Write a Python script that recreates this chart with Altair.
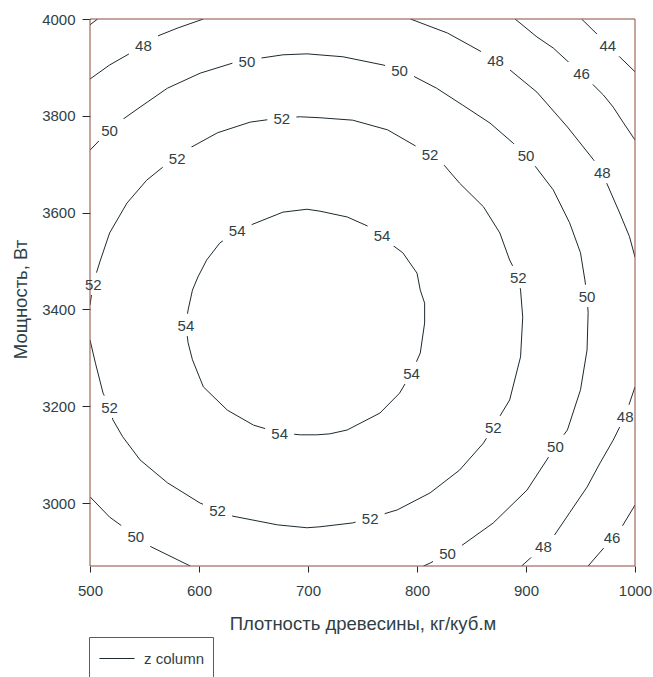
import altair as alt
import pandas as pd

# Contour levels and their traced paths: (x = density, y = power)
c44 = [(951, 4000), (966, 3967), (975, 3946), (984, 3926), (1000, 3891)]

c46_corner = [(500, 3988), (507, 4000)]
c46_top = [(890, 4000), (910, 3963), (925, 3940), (940, 3909), (951, 3888), (959, 3870),
           (971, 3843), (980, 3818), (989, 3787), (1000, 3750)]
c46_bottom = [(1000, 2996), (988, 2951), (979, 2930), (972, 2909), (957, 2870)]

c48_left = [(500, 3876), (518, 3905), (539, 3932), (549, 3946), (560, 3963), (580, 3981), (604, 4000)]
c48_top = [(794, 4000), (828, 3971), (861, 3930), (872, 3915), (883, 3899), (910, 3849),
           (938, 3777), (962, 3709), (970, 3684), (974, 3661), (986, 3599), (995, 3550), (1000, 3508)]
c48_bottom = [(1000, 3240), (991, 3180), (980, 3130), (968, 3083), (956, 3033), (940, 2980),
              (925, 2930), (916, 2911), (899, 2876), (896, 2870)]

c50_main = [(500, 3729), (518, 3771), (529, 3791), (546, 3818), (571, 3857), (601, 3888),
            (631, 3909), (644, 3913), (656, 3919), (677, 3926), (699, 3928), (732, 3922),
            (769, 3905), (784, 3895), (795, 3884), (818, 3857), (842, 3822), (867, 3785),
            (888, 3744), (900, 3719), (906, 3703), (925, 3647), (940, 3579), (950, 3517),
            (954, 3461), (956, 3428), (957, 3393), (956, 3316), (950, 3234), (938, 3151),
            (927, 3118), (919, 3089), (901, 3027), (870, 2959), (839, 2909), (828, 2897),
            (812, 2876), (806, 2870)]
c50_low = [(500, 3013), (518, 2971), (542, 2932), (553, 2913), (592, 2870)]

c52 = [(500, 3409), (502, 3440), (505, 3469), (509, 3498), (518, 3558), (534, 3620),
       (552, 3667), (569, 3698), (580, 3713), (592, 3734), (617, 3765), (647, 3787),
       (676, 3796), (693, 3798), (711, 3796), (741, 3791), (773, 3771), (800, 3736),
       (812, 3721), (823, 3703), (839, 3661), (861, 3612), (876, 3558), (885, 3502),
       (893, 3467), (895, 3440), (897, 3384), (895, 3302), (885, 3213), (870, 3157),
       (861, 3124), (839, 3068), (812, 3021), (782, 2986), (757, 2969), (741, 2959),
       (711, 2951), (699, 2949), (672, 2955), (631, 2973), (617, 2986), (601, 3000),
       (571, 3042), (546, 3089), (530, 3137), (521, 3172), (518, 3199), (512, 3227),
       (505, 3289), (500, 3337)]

c54 = [(635, 3564), (619, 3537), (607, 3502), (599, 3467), (594, 3440), (590, 3399),
       (588, 3368), (590, 3331), (594, 3296), (604, 3240), (626, 3192), (650, 3161),
       (674, 3145), (693, 3141), (708, 3141), (720, 3143), (736, 3151), (766, 3186),
       (784, 3227), (795, 3269), (803, 3310), (807, 3372), (807, 3413), (803, 3440),
       (800, 3475), (787, 3517), (775, 3537), (768, 3554), (757, 3570), (736, 3591),
       (711, 3603), (699, 3607), (677, 3601), (647, 3574), (635, 3564)]

paths = [
    (44, c44), (46, c46_corner), (46, c46_top), (46, c46_bottom),
    (48, c48_left), (48, c48_top), (48, c48_bottom),
    (50, c50_main), (50, c50_low), (52, c52), (54, c54),
]

# Inline label placements on the contours
label_level = [44, 46, 46, 48, 48, 48, 48, 48,
               50, 50, 50, 50, 50, 50, 50, 50,
               52, 52, 52, 52, 52, 52, 52, 52, 52,
               54, 54, 54, 54, 54]
label_x = [975, 951, 979, 549, 872, 970, 991, 916,
           518, 644, 784, 900, 956, 927, 828, 542,
           503, 580, 676, 812, 893, 870, 757, 617, 518,
           635, 768, 588, 795, 674]
label_y = [3946, 3888, 2930, 3946, 3915, 3684, 3180, 2911,
           3771, 3913, 3895, 3719, 3428, 3118, 2897, 2932,
           3453, 3713, 3795, 3721, 3467, 3157, 2969, 2986, 3199,
           3564, 3554, 3368, 3269, 3145]

x_ticks = [500, 600, 700, 800, 900, 1000]
y_ticks = [3000, 3200, 3400, 3600, 3800, 4000]
x_domain = [500, 1000]
y_domain = [2870, 4000]

rows = []
for pid, (lvl, pts) in enumerate(paths):
    for i, (xv, yv) in enumerate(pts):
        rows.append({"path": pid, "idx": i, "level": lvl, "x": xv, "y": yv,
                     "series": "z column"})
lines_df = pd.DataFrame(rows)

labels_df = pd.DataFrame({"x": label_x, "y": label_y,
                          "label": [str(v) for v in label_level]})

frame_df = pd.DataFrame({
    "x": [x_domain[0], x_domain[0], x_domain[0], x_domain[1]],
    "x2": [x_domain[1], x_domain[1], x_domain[0], x_domain[1]],
    "y": [y_domain[0], y_domain[1], y_domain[0], y_domain[0]],
    "y2": [y_domain[0], y_domain[1], y_domain[1], y_domain[1]],
})

FONT = "Liberation Sans"
TEXT = "#303f45"
LINE = "#1c2a30"
FRAME = "#8c4a3c"

xs = alt.Scale(domain=x_domain, nice=False, zero=False)
ys = alt.Scale(domain=y_domain, nice=False, zero=False)

x_axis = alt.Axis(values=x_ticks, format="d", title="Плотность древесины, кг/куб.м",
                  grid=False, domain=False, tickSize=6, tickColor=LINE, labelPadding=11,
                  labelFlush=False, titlePadding=16)
y_axis = alt.Axis(values=y_ticks, format="d", title="Мощность, Вт", grid=False,
                  domain=False, tickSize=8, tickColor=LINE, labelPadding=7,
                  labelFlush=False, titlePadding=11, titleY=280)

lines = alt.Chart(lines_df).mark_line(strokeWidth=1, clip=True).encode(
    x=alt.X("x:Q", scale=xs, axis=x_axis),
    y=alt.Y("y:Q", scale=ys, axis=y_axis),
    detail="path:N",
    order="idx:Q",
    color=alt.Color("series:N", scale=alt.Scale(range=[LINE]),
                    legend=alt.Legend(title=" ", titleOrient="bottom", titleFontSize=12,
                                      titlePadding=4,
                                      orient="none", legendX=-1, legendY=618,
                                      symbolType="M-0.85,0L1.85,0", symbolSize=676,
                                      symbolStrokeWidth=1, labelOffset=20,
                                      labelExpr="datum.label + '\u00a0\u00a0\u00a0\u00a0'",
                                      padding=8, strokeColor=FRAME,
                                      labelFont=FONT, labelFontSize=15,
                                      labelColor=TEXT)),
)

masks = alt.Chart(labels_df).mark_point(
    shape="M-1.3,-1L1.3,-1L1.3,1L-1.3,1Z", filled=True, fill="white",
    strokeWidth=0, opacity=1, size=500,
).encode(x=alt.X("x:Q", scale=xs), y=alt.Y("y:Q", scale=ys))

frame = alt.Chart(frame_df).mark_rule(color=FRAME, strokeWidth=1).encode(
    x=alt.X("x:Q", scale=xs), x2="x2:Q",
    y=alt.Y("y:Q", scale=ys), y2="y2:Q",
)

texts = alt.Chart(labels_df).mark_text(
    font=FONT, fontSize=15, color=TEXT, align="center", baseline="middle", dy=1,
).encode(x=alt.X("x:Q", scale=xs), y=alt.Y("y:Q", scale=ys), text="label:N")

chart = alt.layer(lines, masks, frame, texts).properties(
    width=545, height=547,
    autosize=alt.AutoSizeParams(type="none"),
    padding={"left": 90, "top": 19, "right": 18, "bottom": 111},
).configure(background="white").configure_view(stroke=None).configure_axis(
    labelFont=FONT, labelFontSize=15, labelColor=TEXT,
    titleFont=FONT, titleFontSize=18.5, titleColor=TEXT, titleFontWeight="normal",
)

chart.save("out.html", embed_options={"renderer": "svg", "actions": False})
